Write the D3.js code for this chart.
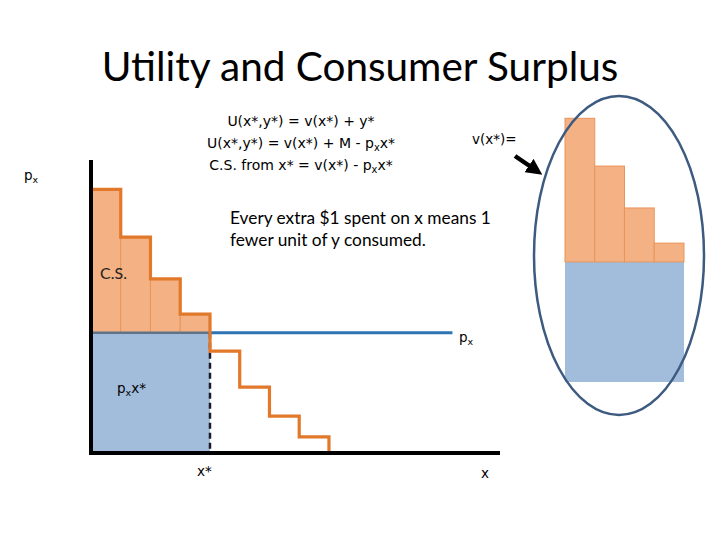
<!DOCTYPE html>
<html>
<head>
<meta charset="utf-8">
<script src="https://cdn.jsdelivr.net/npm/d3@7"></script>
<style>
  body { margin: 0; background: #fff; }
  svg { display: block; }
  .calibri { font-family: Lato, "Open Sans", sans-serif; }
  .tahoma { font-family: "DejaVu Sans", sans-serif; }
</style>
</head>
<body>
<div id="chart"></div>
<script>
// marginal value of each unit of x (step heights), price and chosen quantity
const units = [1, 2, 3, 4, 5, 6, 7, 8];
const marginalValues = [9.0, 7.37, 5.94, 4.74, 3.48, 2.25, 1.26, 0.55];
const price = 4.1;
const xStar = 4;
const xAxisMax = 13.75;
const priceLineEnd = 12.15;
const yAxisMax = 10;

const equations = [
  [['U(x*,y*) = v(x*) + y*', false]],
  [['U(x*,y*) = v(x*) + M - p', false], ['x', true], ['x*', false]],
  [['C.S. from x* = v(x*) - p', false], ['x', true], ['x*', false]]
];
const noteLines = ['Every extra $1 spent on x means 1', 'fewer unit of y consumed.'];

const width = 720, height = 540;
const svg = d3.select('#chart').append('svg')
  .attr('width', width)
  .attr('height', height);

const xScale = d3.scaleLinear().domain([0, xAxisMax]).range([91, 500]);
const yScale = d3.scaleLinear().domain([0, yAxisMax]).range([453, 160]);

const orangeFill = '#F4B183';
const orangeLine = '#E2782A';
const blueFill = '#A2BDDC';

// ---- title
svg.append('text')
  .attr('class', 'calibri')
  .attr('x', 360).attr('y', 81)
  .attr('text-anchor', 'middle')
  .style('font-size', '40.5px')
  .attr('fill', '#000')
  .text('Utility and Consumer Surplus');

// ---- surplus / expenditure areas
function drawAreas(g, outlined) {
  const csUnits = units.filter(u => u <= xStar);
  // blue expenditure rectangle
  g.append('rect')
    .attr('x', xScale(0))
    .attr('y', yScale(price))
    .attr('width', xScale(xStar) - xScale(0))
    .attr('height', yScale(0) - yScale(price))
    .attr('fill', blueFill);

  // orange consumer surplus bars
  g.selectAll('rect.cs')
    .data(csUnits)
    .enter()
    .append('rect')
    .attr('class', 'cs')
    .attr('x', d => xScale(d - 1))
    .attr('y', d => yScale(marginalValues[d - 1]))
    .attr('width', xScale(1) - xScale(0))
    .attr('height', d => yScale(price) - yScale(marginalValues[d - 1]))
    .attr('fill', orangeFill)
    .attr('stroke', '#E8955A')
    .attr('stroke-width', 1);

  if (outlined) {
    g.append('line')
      .attr('x1', xScale(0)).attr('x2', xScale(xStar))
      .attr('y1', yScale(price)).attr('y2', yScale(price))
      .attr('stroke', '#5f7488')
      .attr('stroke-width', 2.5);
  }
}

const main = svg.append('g');
drawAreas(main, true);

// dashed line at x*
main.append('line')
  .attr('x1', xScale(xStar)).attr('x2', xScale(xStar))
  .attr('y1', yScale(price)).attr('y2', yScale(0))
  .attr('stroke', '#1a1a2a')
  .attr('stroke-width', 2.5)
  .attr('stroke-dasharray', '6,4');

// price line
main.append('line')
  .attr('x1', xScale(xStar)).attr('x2', xScale(priceLineEnd))
  .attr('y1', yScale(price)).attr('y2', yScale(price))
  .attr('stroke', '#2E74B5')
  .attr('stroke-width', 3);

// step demand curve
const stepPts = [];
units.forEach((u, i) => {
  stepPts.push([u - 1, marginalValues[i]]);
  stepPts.push([u, marginalValues[i]]);
});
stepPts.push([units[units.length - 1], 0]);
main.append('path')
  .attr('d', d3.line().x(d => xScale(d[0])).y(d => yScale(d[1]))(stepPts))
  .attr('fill', 'none')
  .attr('stroke', orangeLine)
  .attr('stroke-width', 3.2)
  .attr('stroke-linejoin', 'miter');

// axes
main.append('line')
  .attr('x1', xScale(0)).attr('x2', xScale(0))
  .attr('y1', yScale(yAxisMax)).attr('y2', yScale(0) + 2)
  .attr('stroke', '#000').attr('stroke-width', 4);
main.append('line')
  .attr('x1', xScale(0) - 2).attr('x2', xScale(xAxisMax))
  .attr('y1', yScale(0)).attr('y2', yScale(0))
  .attr('stroke', '#000').attr('stroke-width', 4);

// ---- inset copy of the areas
const inset = svg.append('g').attr('transform', 'translate(474,-71)');
drawAreas(inset, false);

// ellipse
svg.append('ellipse')
  .attr('cx', 619).attr('cy', 255.5)
  .attr('rx', 85).attr('ry', 159.5)
  .attr('fill', 'none')
  .attr('stroke', '#3D5A80')
  .attr('stroke-width', 2.5);

// arrow
svg.append('defs').append('marker')
  .attr('id', 'head')
  .attr('viewBox', '0 0 10 10')
  .attr('refX', 6).attr('refY', 5)
  .attr('markerWidth', 3.6).attr('markerHeight', 3.6)
  .attr('orient', 'auto')
  .append('path')
  .attr('d', 'M0,0 L10,5 L0,10 Z')
  .attr('fill', '#000');
svg.append('line')
  .attr('x1', 515).attr('y1', 156)
  .attr('x2', 537).attr('y2', 171)
  .attr('stroke', '#000')
  .attr('stroke-width', 4.5)
  .attr('marker-end', 'url(#head)');

// ---- texts
function subText(x, y, parts, size, cls, anchor) {
  const t = svg.append('text')
    .attr('class', cls)
    .attr('x', x).attr('y', y)
    .attr('text-anchor', anchor || 'start')
    .style('font-size', size + 'px')
    .attr('fill', '#000');
  parts.forEach(p => {
    const s = t.append('tspan').text(p[0]);
    if (p[1]) s.attr('dy', 3).style('font-size', (size * 0.7) + 'px');
    else if (t.selectAll('tspan').size() > 1) s.attr('dy', -3);
  });
  return t;
}

equations.forEach((parts, i) => {
  subText(301, 126 + i * 22, parts, 14, 'tahoma', 'middle');
});
subText(472, 144, [['v(x*)=', false]], 13.5, 'tahoma');

subText(24, 180, [['p', false], ['x', true]], 13.5, 'tahoma');
subText(459, 342, [['p', false], ['x', true]], 13.5, 'tahoma');
subText(117, 393, [['p', false], ['x', true], ['x*', false]], 13.5, 'tahoma');
subText(197, 476, [['x*', false]], 13.5, 'tahoma');
subText(481, 478, [['x', false]], 13.5, 'tahoma');

noteLines.forEach((l, i) => {
  svg.append('text')
    .attr('class', 'calibri')
    .attr('x', 230).attr('y', 224 + i * 22)
    .style('font-size', '17.3px')
    .attr('fill', '#000')
    .text(l);
});

svg.append('text')
  .attr('class', 'calibri')
  .attr('x', 100).attr('y', 279)
  .style('font-size', '16px')
  .attr('fill', '#222')
  .text('C.S.');
</script>
</body>
</html>
